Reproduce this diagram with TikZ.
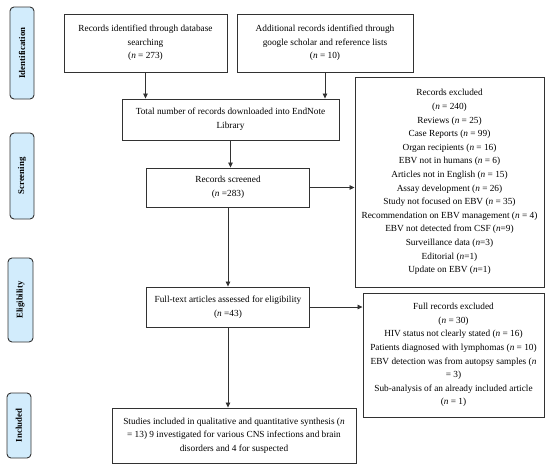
\documentclass[tikz,border=0pt]{standalone}
\usepackage{fontspec}
\setmainfont{Liberation Serif}
\usetikzlibrary{arrows.meta}
\definecolor{phasefill}{RGB}{210,236,252}
\definecolor{edgegray}{RGB}{50,50,50}
\tikzset{
  flowbox/.style={draw=edgegray, line width=0.9pt, fill=white, rectangle, inner sep=0pt,
    align=center, font=\fontsize{9.3}{13.6}\selectfont},
  phase/.style={draw=edgegray, line width=0.9pt, fill=phasefill, rounded corners=4pt,
    inner sep=0pt, font=\bfseries\fontsize{8.8}{10}\selectfont},
  flowarrow/.style={draw=edgegray, line width=0.8pt, -{Triangle[length=5pt,width=4.5pt]}},
}
\newcommand{\nn}{\textit{n}}
\begin{document}
\begin{tikzpicture}[x=1pt,y=-1pt]
\useasboundingbox (0,0) rectangle (550,472);
% phase labels
\node[phase, minimum width=24, minimum height=92] (pid) at (22,53) {};
\node[rotate=90, font=\bfseries\fontsize{8.8}{10}\selectfont] (pidt) at (pid.center) {Identification};
\node[phase, minimum width=24, minimum height=86] (psc) at (22,176) {};
\node[rotate=90, font=\bfseries\fontsize{8.8}{10}\selectfont] (psct) at (psc.center) {Screening};
\node[phase, minimum width=25, minimum height=84] (pel) at (20.5,300) {};
\node[rotate=90, font=\bfseries\fontsize{8.8}{10}\selectfont] (pelt) at (pel.center) {Eligibility};
\node[phase, minimum width=24, minimum height=65] (pin) at (19,425.5) {};
\node[rotate=90, font=\bfseries\fontsize{8.8}{10}\selectfont] (pint) at (pin.center) {Included};
% boxes
\node[flowbox, minimum width=163, minimum height=58] (b1) at (145.5,43)
  {Records identified through database\\searching\\(\nn{} = 273)};
\node[flowbox, minimum width=176, minimum height=58] (b2) at (325,43)
  {Additional records identified through\\google scholar and reference lists\\(\nn{} = 10)};
\node[flowbox, minimum width=217, minimum height=41] (b3) at (230.5,119.5)
  {Total number of records downloaded into EndNote\\Library};
\node[flowbox, minimum width=163, minimum height=39] (b4) at (228,187.5)
  {Records screened\\(\nn{} =283)};
\node[flowbox, minimum width=189, minimum height=210] (e1) at (449.5,182)
  {Records excluded\\(\nn{} = 240)\\Reviews (\nn{} = 25)\\Case Reports (\nn{} = 99)\\Organ recipients (\nn{} = 16)\\EBV not in humans (\nn{} = 6)\\Articles not in English (\nn{} = 15)\\Assay development (\nn{} = 26)\\Study not focused on EBV (\nn{} = 35)\\Recommendation on EBV management (\nn{} = 4)\\EBV not detected from CSF (\nn{}=9)\\Surveillance data (\nn{}=3)\\Editorial (\nn{}=1)\\Update on EBV (\nn{}=1)};
\node[flowbox, minimum width=163, minimum height=40] (b5) at (228,307)
  {Full-text articles assessed for eligibility\\(\nn{} =43)};
\node[flowbox, minimum width=181, minimum height=124] (e2) at (453.5,355)
  {Full records excluded\\(\nn{} = 30)\\HIV status not clearly stated (\nn{} = 16)\\Patients diagnosed with lymphomas (\nn{} = 10)\\EBV detection was from autopsy samples (\nn\\= 3)\\Sub-analysis of an already included article\\(\nn{} = 1)};
\node[flowbox, minimum width=244, minimum height=55] (b6) at (234,435.5)
  {Studies included in qualitative and quantitative synthesis (\nn\\= 13) 9 investigated for various CNS infections and brain\\disorders and 4 for suspected};
% arrows
\draw[flowarrow] (b1.south) -- (b1.south |- b3.north);
\draw[flowarrow] (b2.south) -- (b2.south |- b3.north);
\draw[flowarrow] (b3.south) -- (b3.south |- b4.north);
\draw[flowarrow] (b4.south) -- (b5.north);
\draw[flowarrow] (b5.south) -- (b5.south |- b6.north);
\draw[flowarrow] (b4.east) -- (b4.east -| e1.west);
\draw[flowarrow] (b5.east) -- (b5.east -| e2.west);
\end{tikzpicture}
\end{document}
